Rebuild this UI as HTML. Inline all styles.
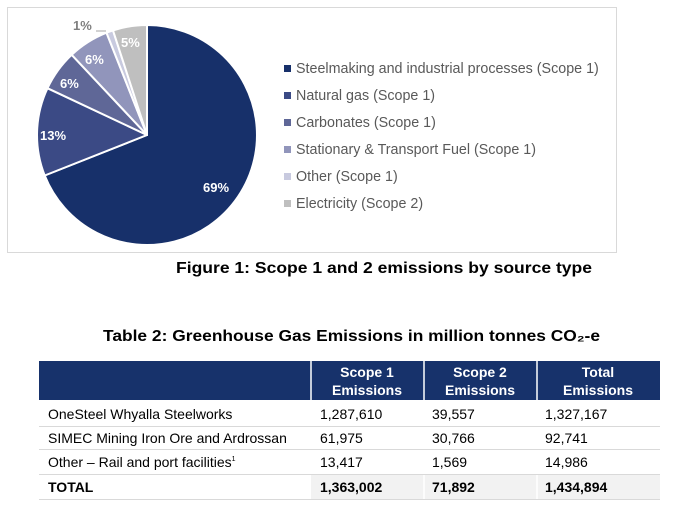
<!DOCTYPE html>
<html><head><meta charset="utf-8"><style>
html,body{margin:0;padding:0;background:#fff;width:680px;height:513px;overflow:hidden}
svg{display:block}
</style></head><body>
<svg width="680" height="513" viewBox="0 0 680 513" xmlns="http://www.w3.org/2000/svg" font-family="Liberation Sans, sans-serif">
<rect x="7.5" y="7.5" width="609" height="245" fill="#fff" stroke="#d9d9d9" stroke-width="1"/>
<g stroke="#fff" stroke-width="2" stroke-linejoin="round">
<path d="M147,135 L147,25 A110,110 0 1 1 44.7,175.5 Z" fill="#17306a"/>
<path d="M147,135 L44.7,175.5 A110,110 0 0 1 47.5,88.2 Z" fill="#3b4a85"/>
<path d="M147,135 L47.5,88.2 A110,110 0 0 1 71.7,54.8 Z" fill="#5f6797"/>
<path d="M147,135 L71.7,54.8 A110,110 0 0 1 106.5,32.7 Z" fill="#9195bb"/>
<path d="M147,135 L106.5,32.7 A110,110 0 0 1 113,30.4 Z" fill="#c8cadf"/>
<path d="M147,135 L113,30.4 A110,110 0 0 1 147,25 Z" fill="#bfbfbf"/>
</g>
<g font-weight="bold" font-size="13" fill="#fff">
<text x="203" y="192">69%</text>
<text x="40" y="140">13%</text>
<text x="60" y="88">6%</text>
<text x="85" y="64">6%</text>
<text x="121" y="47">5%</text>
<text x="73" y="30" fill="#7f7f7f">1%</text>
</g>
<line x1="96" y1="31" x2="106" y2="31" stroke="#a6a6a6" stroke-width="1"/>
<g font-size="14.3" fill="#595959">
<rect x="284" y="65" width="7" height="7" fill="#17306a"/><text x="296" y="73">Steelmaking and industrial processes (Scope 1)</text>
<rect x="284" y="92" width="7" height="7" fill="#3b4a85"/><text x="296" y="100">Natural gas (Scope 1)</text>
<rect x="284" y="119" width="7" height="7" fill="#5f6797"/><text x="296" y="127">Carbonates (Scope 1)</text>
<rect x="284" y="146" width="7" height="7" fill="#9195bb"/><text x="296" y="154">Stationary &amp; Transport Fuel (Scope 1)</text>
<rect x="284" y="173" width="7" height="7" fill="#c8cadf"/><text x="296" y="181">Other (Scope 1)</text>
<rect x="284" y="200" width="7" height="7" fill="#bfbfbf"/><text x="296" y="208">Electricity (Scope 2)</text>
</g>
<text x="176" y="273" font-size="16" font-weight="bold" fill="#000" textLength="416" lengthAdjust="spacingAndGlyphs">Figure 1: Scope 1 and 2 emissions by source type</text>
<text x="103" y="341" font-size="16" font-weight="bold" fill="#000" textLength="497" lengthAdjust="spacingAndGlyphs">Table 2: Greenhouse Gas Emissions in million tonnes CO₂-e</text>
<rect x="39" y="361" width="621" height="39" fill="#17326b"/>
<g stroke="#fff" stroke-width="1.5"><line x1="311" y1="361" x2="311" y2="400"/><line x1="424" y1="361" x2="424" y2="400"/><line x1="537" y1="361" x2="537" y2="400"/></g>
<g font-size="14" font-weight="bold" fill="#fff" text-anchor="middle">
<text x="367" y="377">Scope 1</text><text x="367" y="395">Emissions</text>
<text x="480" y="377">Scope 2</text><text x="480" y="395">Emissions</text>
<text x="598" y="377">Total</text><text x="598" y="395">Emissions</text>
</g>
<rect x="311" y="474" width="349" height="25" fill="#f2f2f2"/>
<g stroke="#fff" stroke-width="1.5"><line x1="424" y1="474" x2="424" y2="499"/><line x1="537" y1="474" x2="537" y2="499"/></g>
<g stroke="#d9d9d9" stroke-width="1"><line x1="39" y1="426.5" x2="660" y2="426.5"/><line x1="39" y1="449.5" x2="660" y2="449.5"/><line x1="39" y1="474.5" x2="660" y2="474.5"/><line x1="39" y1="499.5" x2="660" y2="499.5"/></g>
<g font-size="14" fill="#000">
<text x="48" y="419">OneSteel Whyalla Steelworks</text><text x="320" y="419">1,287,610</text><text x="432" y="419">39,557</text><text x="545" y="419">1,327,167</text>
<text x="48" y="443">SIMEC Mining Iron Ore and Ardrossan</text><text x="320" y="443">61,975</text><text x="432" y="443">30,766</text><text x="545" y="443">92,741</text>
<text x="48" y="467">Other – Rail and port facilities<tspan font-size="7" dy="-6">1</tspan></text><text x="320" y="467">13,417</text><text x="432" y="467">1,569</text><text x="545" y="467">14,986</text>
<g font-weight="bold"><text x="48" y="492">TOTAL</text><text x="320" y="492">1,363,002</text><text x="432" y="492">71,892</text><text x="545" y="492">1,434,894</text></g>
</g>
</svg>
</body></html>
